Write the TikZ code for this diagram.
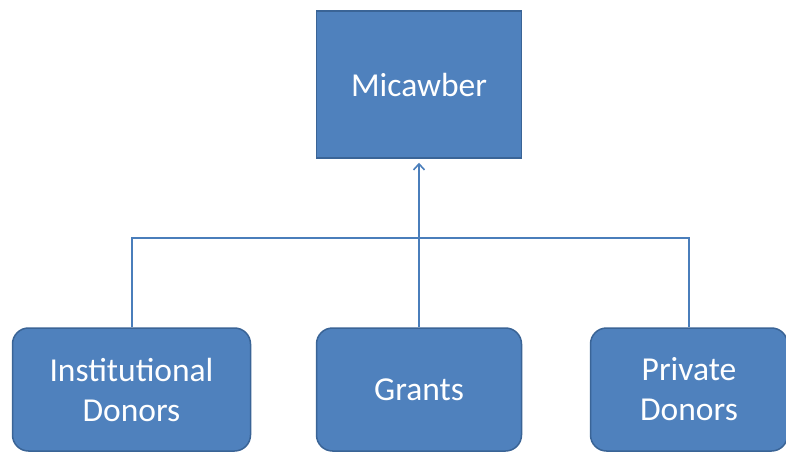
\documentclass[tikz,border=0pt]{standalone}
\usepackage{fontspec}
\setmainfont{Carlito}
\usetikzlibrary{arrows.meta}
\definecolor{boxfill}{HTML}{4F81BD}
\definecolor{boxline}{HTML}{3A6496}
\definecolor{conn}{HTML}{4A7EBB}
\begin{document}
\begin{tikzpicture}[x=1pt,y=-1pt,
  box/.style={draw=boxline, line width=1.5pt, fill=boxfill, text=white, inner sep=0pt,
    align=center, font=\fontsize{33.5}{40}\selectfont},
  rbox/.style={box, rounded corners=16pt},
  link/.style={draw=conn, line width=2pt}]
\useasboundingbox (0,0) rectangle (786,454);
\node[box, minimum width=205pt, minimum height=147pt] (mic) at (419,84.5) {Micawber};
\node[rbox, minimum width=238pt, minimum height=123pt] (inst) at (131.5,389.5) {Institutional\\Donors};
\node[rbox, minimum width=205pt, minimum height=123pt] (grants) at (419,389.5) {Grants};
\node[rbox, minimum width=197pt, minimum height=123pt] (priv) at (689,389.5) {Private\\Donors};
\coordinate (hl) at (0,238);
\draw[link] (inst.north) |- (priv.north |- hl) -- (priv.north);
\draw[link, -{Straight Barb[length=6pt,width=11pt,line width=1.6pt]}, shorten >=4pt] (grants.north) -- (mic.south);
\end{tikzpicture}
\end{document}
